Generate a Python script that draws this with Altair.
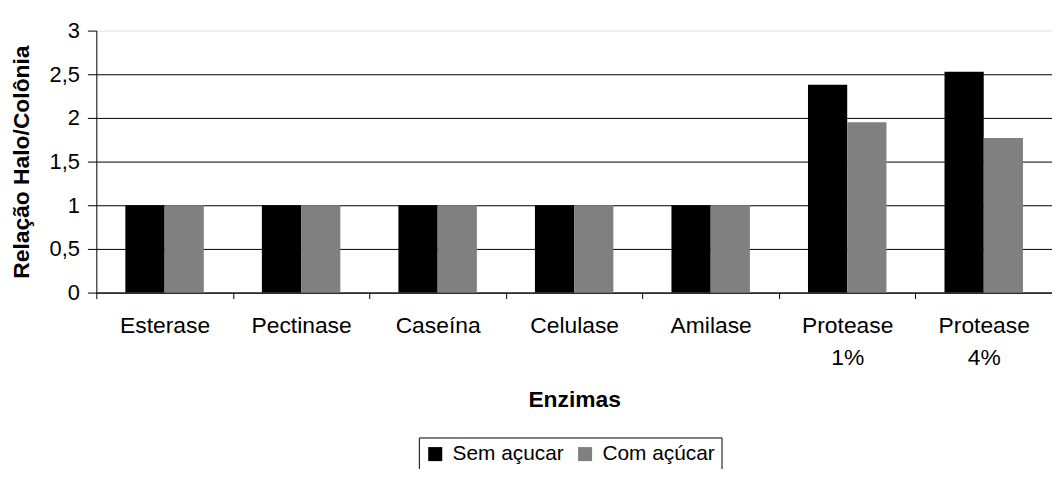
import altair as alt
import pandas as pd

categories = ["Esterase", "Pectinase", "Caseína", "Celulase", "Amilase", "Protease 1%", "Protease 4%"]
sem_acucar = [1, 1, 1, 1, 1, 2.38, 2.53]
com_acucar = [1, 1, 1, 1, 1, 1.95, 1.77]
series = ["Sem açucar", "Com açúcar"]
y_ticks = [0, 0.5, 1, 1.5, 2, 2.5, 3]

rows = []
for c, a, b in zip(categories, sem_acucar, com_acucar):
    rows.append({"Enzima": c, "Serie": series[0], "Valor": a})
    rows.append({"Enzima": c, "Serie": series[1], "Valor": b})
df = pd.DataFrame(rows)

FONT = "Liberation Sans"

chart = alt.Chart(df).mark_bar().encode(
    x=alt.X("Enzima:N", sort=categories,
            scale=alt.Scale(paddingInner=0, paddingOuter=0),
            axis=alt.Axis(title="Enzimas", labelAngle=0, tickBand="extent",
                          labelExpr="split(datum.label, ' ')",
                          labelFontSize=23, labelFont=FONT, labelColor="black",
                          labelPadding=16, labelLineHeight=32,
                          tickSize=6, tickColor="black", domainColor="black",
                          titleFontSize=23, titleFont=FONT, titleFontWeight="bold",
                          titleColor="black", titlePadding=20, grid=False)),
    xOffset=alt.XOffset("Serie:N", sort=series,
                        scale=alt.Scale(paddingInner=0, paddingOuter=0.74)),
    y=alt.Y("Valor:Q", scale=alt.Scale(domain=[0, 3], nice=False),
            axis=alt.Axis(title="Relação Halo/Colônia", values=y_ticks, format="~g",
                          labelExpr="replace(datum.label, '.', ',')",
                          labelFontSize=22, labelFont=FONT, labelColor="black",
                          labelPadding=8, tickSize=9, tickColor="black",
                          domainColor="black",
                          gridColor=alt.expr("datum.value == 3 ? '#e0e0e0' : '#000000'"),
                          gridOpacity=1,
                          titleFontSize=23, titleFont=FONT, titleFontWeight="bold",
                          titleColor="black", titlePadding=16)),
    color=alt.Color("Serie:N", sort=series,
                    scale=alt.Scale(domain=series, range=["#000000", "#808080"]),
                    legend=alt.Legend(title=None, orient="none", direction="horizontal",
                                      legendX=325, legendY=410,
                                      symbolType="square", symbolSize=200,
                                      symbolStrokeWidth=0,
                                      labelFontSize=21, labelFont=FONT, labelColor="black",
                                      strokeColor="black", padding=6,
                                      columnPadding=10, labelOffset=7)),
).properties(
    width=963, height=264,
    autosize=alt.AutoSizeParams(type="none"),
    padding={"left": 89, "top": 21, "right": 0, "bottom": 176},
).configure_view(stroke=None).configure_axis(domainWidth=1)

chart.save("out.html", embed_options={"renderer": "svg", "actions": False})
